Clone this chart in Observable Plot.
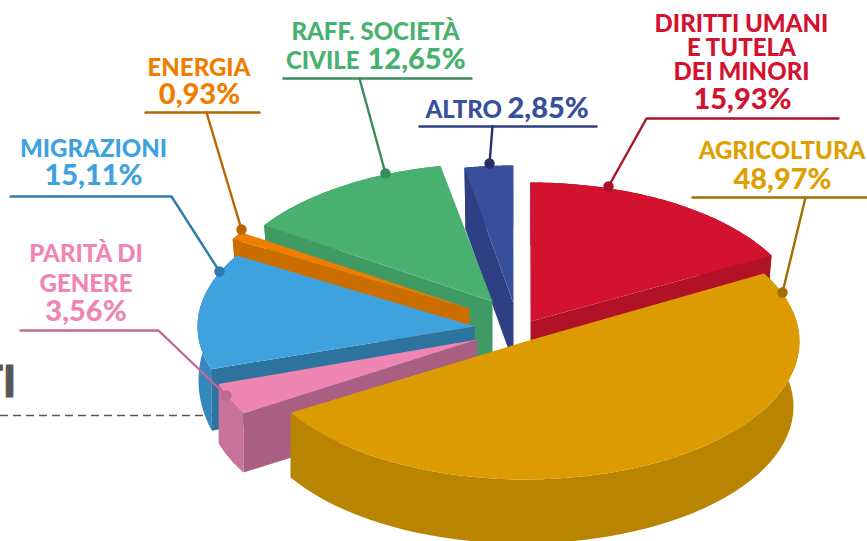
<!DOCTYPE html>
<html><head><meta charset="utf-8">
<style>html,body{margin:0;padding:0;background:#fff;overflow:hidden}svg{display:block}</style>
<script src="https://cdn.jsdelivr.net/npm/d3@7"></script>
<script src="https://cdn.jsdelivr.net/npm/@observablehq/plot@0.6"></script>
</head><body><div id="chart"></div>
<script>
// DATA
const categories = ["AGRICOLTURA","PARITÀ DI GENERE","MIGRAZIONI","ENERGIA","RAFF. SOCIETÀ CIVILE","ALTRO","DIRITTI UMANI E TUTELA DEI MINORI"];
const shares = [48.97,3.56,15.11,0.93,12.65,2.85,15.93];

// LAYOUT (one entry per category, same order)
const startAngle = 330.5;
const nudge = [0,2.5,2.4,-3.8,-3.8,-3.2,-3.2];      // perspective correction of the slice start, degrees
const gain  = [1.012,1,0.9,1,1,1,1.075];            // perspective correction of the sweep
const apexX = [525,477,474,469,492,513,530];
const apexY = [341,339,326,308,301,303,321];
const radX  = [274,272,277,274,274,274,274];
const radY  = [138,145,138,138,138,138,139];
const baseDx= [-3,-1,0,0,0,0,0];
const baseDy= [65,60,54,60,60,60,60];
const baseRx= [271,271,276,268,268,268,268];
const baseRy= [137,143,163,136,136,136,136];
const topFill  = ["#DC9B00","#EE85B3","#3EA2DE","#EF7D00","#49B170","#384F9B","#D31230"];
const rimFill  = ["#B98400","#C9729B","#3588BC","#CC6D00","#3F9A64","#2E3F84","#B21226"];
const wallFill = ["#B98400","#A85F82","#2C739E","#CC6D00","#3F9A64","#2E3F84","#B21226"];
const drawOrder = [5,4,3,6,2,1,0];

const rad = d => d*Math.PI/180;
let acc = startAngle;
const slices = shares.map((v,i)=>{
  const sweep = v*3.6;
  const a0 = acc + nudge[i];
  const a1 = a0 + sweep*gain[i];
  acc += sweep;
  return {i,a0,a1};
});
const arc = (cx,cy,rx,ry,a0,a1)=>d3.range(0,61).map(k=>{
  const a = rad(a0+(a1-a0)*k/60);
  return {x:cx+rx*Math.cos(a),y:cy+ry*Math.sin(a)};
});
const poly = (pts,fill)=>Plot.line(pts,{x:"x",y:"y",fill,stroke:"none",curve:"linear-closed"});

const f = {fontFamily:"Lato",fontWeight:900,stroke:"none"};
const label = (txt,x,y,size,fill,textAnchor="middle",extra={})=>
  Plot.text([txt],{x:()=>x,y:()=>y,text:d=>d,fontSize:size,fill,textAnchor,lineAnchor:"bottom",...f,...extra});
const pct = i=>shares[i].toFixed(2).replace(".",",")+"%";

const marks = [];
// background fragment
marks.push(Plot.ruleY([415],{x1:0,x2:212,stroke:"#575756",strokeWidth:1.5,strokeDasharray:"8 5"}));
marks.push(label("TI",15.5,396,43,"#575756","end",{stroke:"#575756",strokeWidth:1}));

// slices, back to front
for (const k of drawOrder){
  const {i,a0,a1}=slices[k];
  const cx=apexX[i],cy=apexY[i],rx=radX[i],ry=radY[i];
  const bx=cx+baseDx[i],by=cy+baseDy[i],brx=baseRx[i],bry=baseRy[i];
  const pt=(a,cX,cY,rX,rY)=>({x:cX+rX*Math.cos(rad(a)),y:cY+rY*Math.sin(rad(a))});
  // outer rim
  marks.push(poly([...arc(cx,cy,rx,ry,a0,a1),...arc(bx,by,brx,bry,a1,a0)],rimFill[i]));
  // radial walls that face the viewer
  if (Math.cos(rad(a0))<-1e-3) marks.push(poly([{x:cx,y:cy},pt(a0,cx,cy,rx,ry),pt(a0,bx,by,brx,bry),{x:bx,y:by}],wallFill[i]));
  if (Math.cos(rad(a1))> 1e-3) marks.push(poly([{x:cx,y:cy},pt(a1,cx,cy,rx,ry),pt(a1,bx,by,brx,bry),{x:bx,y:by}],wallFill[i]));
  // top face
  marks.push(poly([{x:cx,y:cy},...arc(cx,cy,rx,ry,a0,a1)],topFill[i]));
}

// leaders
const seg=(pts,stroke)=>marks.push(Plot.line(pts,{x:d=>d[0],y:d=>d[1],stroke,strokeWidth:2.4,curve:"linear"}));
const leader=(pts,stroke)=>{
  seg(pts,stroke);
  marks.push(Plot.dot([pts[pts.length-1]],{x:d=>d[0],y:d=>d[1],r:5.2,fill:stroke,stroke:"none"}));
};
leader([[838,118],[646,118],[608,186]],"#A91228");
leader([[867,197],[692,197],[805,197],[782,292]],"#A06F00");
seg([[419,126],[596,126]],"#2E3F84");
leader([[492,126],[489,163]],"#242F6C");
seg([[283,78],[471,78]],"#3A8A5E");
leader([[359,78],[385,173]],"#3A8A5E");
seg([[145,112],[259,112]],"#B86500");
leader([[206,112],[241,229]],"#B86500");
leader([[10,196],[171,196],[219,271]],"#2C7CAB");
leader([[20,330],[158,330],[226,395]],"#BF6795");

// labels
const red=topFill[6],gold="#E09F00",navy=topFill[5],green=topFill[4],orange=topFill[3],blue=topFill[2],pink=topFill[1];
marks.push(label("DIRITTI UMANI\nE TUTELA\nDEI MINORI",741,79,24,red,"middle",{lineHeight:0.98}));
marks.push(label(pct(6),742,108,29,red));
marks.push(label("AGRICOLTURA",781.5,158,24,gold));
marks.push(label(pct(0),782,188,29,gold));
marks.push(label("ALTRO",501.5,117,24,navy,"end"));
marks.push(label(pct(5),507,117,29,navy,"start"));
marks.push(label("RAFF. SOCIETÀ",375,39,24,green));
marks.push(label("CIVILE",359,68,24,green,"end"));
marks.push(label(pct(4),367,68,29,green,"start"));
marks.push(label("ENERGIA",198.5,75,24,orange));
marks.push(label(pct(3),199,103,29,orange));
marks.push(label("MIGRAZIONI",93,156,24,blue));
marks.push(label(pct(2),93,184,29,blue));
marks.push(label("PARITÀ DI\nGENERE",85.5,291,24,pink,"middle",{lineHeight:1.21}));
marks.push(label(pct(1),85.5,320,29,pink));

const chart = Plot.plot({
  width:867,height:541,margin:0,
  x:{domain:[0,867],range:[0,867],axis:null},
  y:{domain:[0,541],range:[0,541],axis:null},
  style:{background:"#fff"},
  marks
});
document.getElementById("chart").append(chart);
</script></body></html>
